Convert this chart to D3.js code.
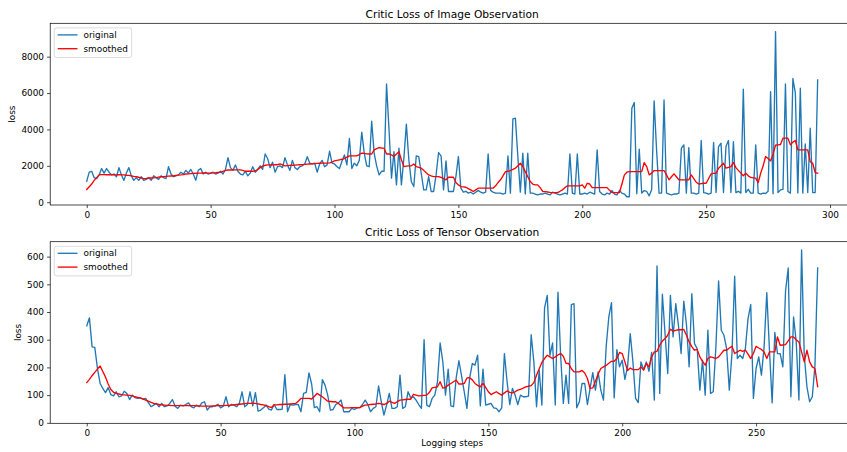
<!DOCTYPE html>
<html>
<head>
<meta charset="utf-8">
<script src="https://cdn.jsdelivr.net/npm/d3@7"></script>
<style>
  html, body { margin: 0; padding: 0; background: #fff; }
  svg { display: block; font-family: "DejaVu Sans", sans-serif; }
</style>
</head>
<body>
<svg id="chart" width="847" height="452"></svg>
<script>
// ---- data -------------------------------------------------------------
const imageTitle = "Critic Loss of Image Observation";
const tensorTitle = "Critic Loss of Tensor Observation";
const seriesNames = ["original", "smoothed"];

const imageOriginal = [
  1150, 1650, 1700, 1350, 1300, 1500, 1850, 1600, 1850, 1650,
  1500, 1550, 1400, 1900, 1500, 1200, 1600, 1900, 1450, 1200,
  1350, 1200, 1400, 1200, 1250, 1350, 1200, 1450, 1350, 1250,
  1450, 1350, 1300, 1950, 1550, 1400, 1450, 1500, 1650, 1550,
  1750, 1600, 1800, 1550, 1200, 1750, 1850, 1550, 1650, 1550,
  1600, 1650, 1550, 1600, 1700, 1550, 1800, 2450, 1900, 1750,
  2050, 1700, 1550, 1500, 1700, 1450, 1600, 1950, 1650, 1800,
  2000, 1800, 2650, 2400, 1900, 2200, 1650, 1950, 2000, 1900,
  2450, 2050, 1750, 2300, 1900, 1800, 1950, 2000, 2100, 2500,
  2150, 2100, 2150, 1650, 2100, 2300, 1950, 2050, 2800, 2150,
  2100, 1950, 1850, 2250, 2600, 2050, 3500, 1850, 2150, 2000,
  2300, 3850, 2700, 2000, 1950, 4450, 2700, 2000, 1500, 1700,
  1700, 6500, 4000, 1320, 2780, 950, 2970, 950, 2420, 4290,
  2330, 1135, 860, 2550, 2510, 1590, 680, 680, 1410, 590,
  590, 1500, 2730, 2550, 680, 2270, 590, 590, 590, 1410,
  2510, 770, 550, 600, 500, 550, 450, 550, 650, 550,
  500, 550, 2650, 650, 550, 500, 500, 500, 450, 500,
  2550, 500, 4580, 4620, 2500, 550, 2700, 450, 2700, 500,
  500, 450, 400, 450, 450, 500, 450, 400, 550, 500,
  450, 400, 450, 500, 450, 2650, 500, 450, 2650, 450,
  450, 500, 450, 550, 500, 450, 2880, 590, 450, 400,
  500, 450, 640, 450, 400, 640, 500, 450, 300, 300,
  5160, 5480, 460, 2910, 500, 640, 590, 350, 680, 5570,
  2840, 500, 500, 5620, 500, 450, 400, 450, 450, 500,
  2970, 3150, 500, 3000, 500, 500, 450, 500, 3390, 530,
  500, 450, 500, 3280, 530, 3060, 3240, 530, 3060, 3390,
  530, 3330, 530, 600, 500, 6210, 530, 710, 500, 500,
  3150, 500, 450, 500, 480, 600, 6080, 460, 9380, 530,
  680, 700, 6500, 590, 500, 6800, 5990, 500, 6270, 500,
  3200, 530, 4070, 530, 530, 6720
];

const imageSmoothed = [
  700, 850, 1000, 1200, 1350, 1500, 1520, 1520, 1510, 1510,
  1500, 1500, 1500, 1510, 1500, 1500, 1480, 1470, 1450, 1420,
  1400, 1370, 1330, 1300, 1310, 1330, 1330, 1340, 1350, 1380,
  1400, 1410, 1420, 1430, 1440, 1450, 1470, 1490, 1500, 1520,
  1550, 1560, 1570, 1580, 1590, 1600, 1600, 1610, 1600, 1600,
  1600, 1610, 1620, 1640, 1650, 1700, 1750, 1770, 1770, 1780,
  1780, 1780, 1780, 1750, 1700, 1700, 1700, 1700, 1720, 1800,
  1900, 1980, 2030, 2050, 2050, 2050, 2060, 2060, 2100, 2050,
  2000, 2010, 2020, 2030, 2040, 2050, 2060, 2070, 2080, 2090,
  2100, 2110, 2120, 2130, 2140, 2150, 2150, 2150, 2160, 2200,
  2270, 2300, 2330, 2360, 2400, 2480, 2550, 2550, 2550, 2550,
  2620, 2700, 2680, 2660, 2650, 2650, 2880, 2950, 3000, 2980,
  2970, 2650, 2650, 2600, 2510, 2650, 2780, 2330, 1960, 1980,
  2000, 2000, 2100, 1960, 1920, 1870, 1750, 1620, 1500, 1450,
  1410, 1410, 1410, 1360, 1300, 1230, 1370, 1370, 1370, 1080,
  950, 860, 840, 820, 750, 680, 590, 680, 770, 770,
  770, 770, 770, 770, 770, 900, 1080, 1230, 1450, 1680,
  1700, 1740, 1800, 1870, 2000, 2140, 1960, 1680, 1400, 1135,
  1000, 950, 950, 800, 590, 580, 560, 540, 530, 530,
  530, 600, 680, 800, 900, 900, 900, 900, 900, 900,
  950, 770, 1040, 1000, 800, 800, 800, 800, 800, 800,
  800, 650, 530, 530, 530, 530, 1000, 1500, 1650, 1680,
  1680, 1680, 1680, 1680, 1680, 2180, 1960, 1500, 1600, 1740,
  1740, 1740, 1740, 1740, 1500, 1230, 1400, 1560, 1400, 1230,
  1230, 1230, 1230, 1230, 1500, 1300, 1100, 1000, 1020, 1040,
  1040, 1300, 1560, 1580, 1590, 1870, 2000, 2140, 1870, 1920,
  1960, 2180, 1900, 1750, 1600, 1450, 1590, 1450, 1360, 1340,
  1320, 1080, 1590, 2000, 2510, 2400, 2270, 2640, 3130, 3150,
  3170, 3520, 3520, 3520, 3150, 3300, 3390, 2880, 2880, 2880,
  2880, 2880, 2230, 2140, 1630, 1590
];

const tensorOriginal = [
  350, 379, 274, 272, 196, 142, 124, 109, 127, 102,
  97, 112, 94, 97, 114, 106, 84, 100, 91, 88,
  90, 85, 88, 73, 58, 64, 70, 58, 70, 58,
  61, 70, 84, 60, 52, 64, 61, 66, 72, 58,
  54, 64, 58, 72, 76, 46, 58, 58, 61, 67,
  54, 60, 94, 58, 66, 64, 58, 70, 112, 58,
  66, 112, 61, 109, 42, 46, 54, 64, 49, 46,
  66, 48, 48, 49, 174, 40, 66, 64, 66, 66,
  40, 106, 110, 180, 140, 55, 58, 40, 156, 136,
  100, 46, 48, 66, 72, 82, 40, 40, 40, 52,
  48, 54, 55, 66, 82, 66, 40, 52, 58, 133,
  76, 28, 64, 106, 52, 52, 58, 172, 52, 58,
  112, 90, 94, 82, 66, 52, 300, 64, 58, 88,
  100, 148, 288, 220, 100, 194, 61, 58, 163, 224,
  169, 112, 52, 160, 214, 208, 244, 61, 194, 64,
  67, 70, 54, 52, 40, 54, 250, 148, 66, 124,
  100, 66, 100, 94, 94, 96, 318, 220, 58, 190,
  64, 415, 460, 244, 288, 64, 472, 244, 70, 172,
  70, 427, 430, 54, 76, 142, 142, 66, 124, 181,
  118, 184, 118, 82, 274, 382, 434, 90, 264, 202,
  226, 157, 202, 322, 220, 88, 73, 220, 192, 220,
  186, 254, 82, 566, 106, 464, 322, 178, 460, 310,
  430, 352, 250, 439, 355, 202, 466, 286, 268, 118,
  226, 100, 334, 106, 112, 274, 512, 334, 316, 268,
  118, 250, 529, 232, 244, 232, 268, 376, 427, 88,
  196, 238, 172, 274, 470, 262, 72, 326, 250, 250,
  202, 475, 559, 94, 382, 292, 82, 624, 244, 130,
  76, 94, 208, 559
];

const tensorSmoothed = [
  145, 157, 170, 182, 194, 205, 185, 165, 140, 120,
  110, 106, 104, 102, 101, 100, 99, 97, 94, 92,
  90, 86, 82, 78, 74, 70, 68, 66, 65, 64,
  63, 63, 62, 62, 62, 62, 62, 62, 62, 62,
  62, 61, 61, 60, 60, 60, 60, 61, 61, 62,
  62, 62, 63, 63, 64, 65, 66, 67, 68, 69,
  70, 70, 70, 70, 68, 66, 65, 62, 58, 55,
  65, 65, 66, 66, 67, 67, 68, 69, 70, 78,
  88, 88, 88, 88, 86, 95, 106, 100, 94, 86,
  78, 77, 76, 76, 70, 62, 54, 54, 54, 55,
  55, 55, 55, 60, 64, 65, 66, 67, 68, 70,
  68, 66, 70, 78, 74, 70, 76, 82, 83, 84,
  85, 85, 103, 100, 97, 98, 99, 100, 110, 126,
  128, 130, 148, 125, 128, 136, 142, 148, 154, 140,
  140, 142, 162, 163, 155, 142, 135, 130, 142, 128,
  112, 102, 107, 112, 105, 100, 108, 115, 110, 108,
  112, 118, 121, 125, 130, 132, 134, 145, 172, 195,
  218, 232, 244, 238, 232, 238, 245, 250, 240, 215,
  214, 195, 184, 184, 184, 189, 180, 160, 124, 126,
  150, 175, 196, 202, 207, 215, 222, 222, 232, 254,
  250, 220, 189, 198, 192, 192, 192, 202, 190, 214,
  202, 238, 256, 258, 280, 295, 304, 316, 338, 331,
  334, 336, 336, 337, 316, 292, 275, 262, 265, 238,
  222, 208, 232, 238, 235, 232, 238, 250, 262, 262,
  270, 276, 250, 256, 262, 258, 262, 248, 232, 250,
  276, 270, 265, 256, 232, 256, 256, 256, 310, 280,
  281, 282, 296, 310, 310, 300, 292, 256, 220, 262,
  220, 202, 196, 130
];

const imageXTicks = [0, 50, 100, 150, 200, 250, 300];
const tensorXTicks = [0, 50, 100, 150, 200, 250];
const imageYTicks = [0, 2000, 4000, 6000, 8000];
const tensorYTicks = [0, 100, 200, 300, 400, 500, 600];

// ---- layout -----------------------------------------------------------
const svg = d3.select("#chart");
const S = 0.64;                       // point-to-pixel scale of the figure
const tickFont = 10 * 1.389 * S;      // 10pt
const titleFont = 12 * 1.389 * S;     // 12pt
const lineW = 1.5 * 1.389 * S;
const spineW = 0.8 * 1.389 * S;
const tickLen = 3.5 * 1.389 * S;
const blue = "#1f77b4", red = "#ff0000", ink = "#000";

const axLeft = 50.2, axRight = 854.2;

function padded(lo, hi) {
  const r = hi - lo;
  return [lo - 0.05 * r, hi + 0.05 * r];
}

function panel(cfg) {
  const g = svg.append("g");
  const n = cfg.original.length;
  const x = d3.scaleLinear().domain(padded(0, n - 1)).range([axLeft, axRight]);
  const all = cfg.original.concat(cfg.smoothed);
  const y = d3.scaleLinear().domain(padded(d3.min(all), d3.max(all))).range([cfg.bottom, cfg.top]);

  // axes frame
  g.append("rect")
    .attr("x", axLeft).attr("y", cfg.top)
    .attr("width", axRight - axLeft).attr("height", cfg.bottom - cfg.top)
    .attr("fill", "none").attr("stroke", ink).attr("stroke-width", spineW);

  const xAxis = g.append("g")
    .attr("transform", `translate(0,${cfg.bottom})`)
    .call(d3.axisBottom(x).tickValues(cfg.xTicks).tickFormat(d3.format("d"))
      .tickSize(tickLen).tickSizeOuter(0).tickPadding(tickLen));
  const yAxis = g.append("g")
    .attr("transform", `translate(${axLeft},0)`)
    .call(d3.axisLeft(y).tickValues(cfg.yTicks).tickFormat(d3.format("d"))
      .tickSize(tickLen).tickSizeOuter(0).tickPadding(tickLen));
  [xAxis, yAxis].forEach(a => {
    a.select(".domain").remove();
    a.selectAll("line").attr("stroke", ink).attr("stroke-width", spineW);
    a.selectAll("text").attr("fill", ink)
      .style("font-family", "DejaVu Sans").style("font-size", tickFont + "px");
  });

  const line = d3.line().x((d, i) => x(i)).y(d => y(d));
  g.append("path").datum(cfg.original)
    .attr("d", line).attr("fill", "none")
    .attr("stroke", blue).attr("stroke-width", lineW)
    .attr("stroke-linejoin", "round").attr("stroke-linecap", "square");
  g.append("path").datum(cfg.smoothed)
    .attr("d", line).attr("fill", "none")
    .attr("stroke", red).attr("stroke-width", lineW)
    .attr("stroke-linejoin", "round").attr("stroke-linecap", "square");

  // title
  g.append("text")
    .attr("x", (axLeft + axRight) / 2).attr("y", cfg.top - 5.3)
    .attr("text-anchor", "middle").attr("fill", ink)
    .style("font-size", titleFont + "px").text(cfg.title);

  // y label
  g.append("text")
    .attr("transform", `translate(${cfg.yLabelX},${(cfg.top + cfg.bottom) / 2}) rotate(-90)`)
    .attr("text-anchor", "middle").attr("fill", ink)
    .style("font-size", tickFont + "px").text("loss");

  // legend
  const lg = g.append("g").attr("transform", `translate(${axLeft + 4.1},${cfg.top + 4.6})`);
  lg.append("rect")
    .attr("x", 0).attr("y", 0).attr("width", 77.4).attr("height", 29.6)
    .attr("rx", 2.2).attr("ry", 2.2)
    .attr("fill", "#fff").attr("fill-opacity", 0.8)
    .attr("stroke", "#cccccc").attr("stroke-width", spineW);
  seriesNames.forEach((name, k) => {
    const yy = 7 + k * 13.8;
    lg.append("line")
      .attr("x1", 3.4).attr("x2", 23.2).attr("y1", yy).attr("y2", yy)
      .attr("stroke", k === 0 ? blue : red).attr("stroke-width", lineW);
    lg.append("text")
      .attr("x", 29.2).attr("y", yy).attr("dy", "0.35em")
      .attr("fill", ink).style("font-size", tickFont + "px").text(name);
  });

  return { x, y };
}

panel({
  title: imageTitle, original: imageOriginal, smoothed: imageSmoothed,
  xTicks: imageXTicks, yTicks: imageYTicks,
  top: 23.3, bottom: 205, yLabelX: 14.8
});

panel({
  title: tensorTitle, original: tensorOriginal, smoothed: tensorSmoothed,
  xTicks: tensorXTicks, yTicks: tensorYTicks,
  top: 241.7, bottom: 423.3, yLabelX: 20.5
});

svg.append("text")
  .attr("x", (axLeft + axRight) / 2).attr("y", 446)
  .attr("text-anchor", "middle").attr("fill", ink)
  .style("font-size", tickFont + "px").text("Logging steps");
</script>
</body>
</html>
